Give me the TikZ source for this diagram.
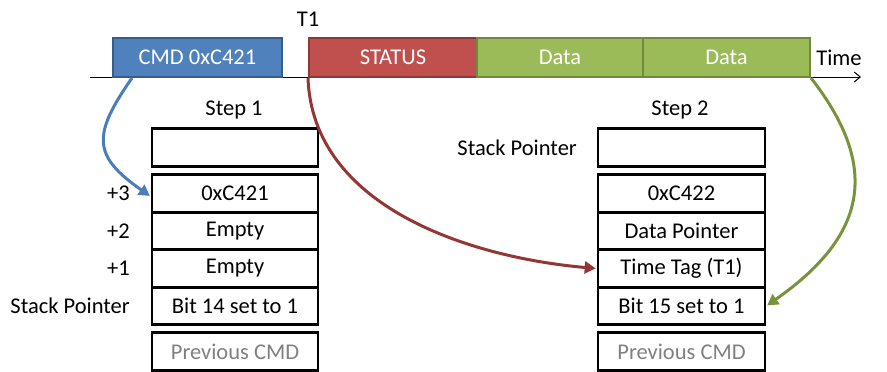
\documentclass[tikz,border=0pt]{standalone}
\usepackage{fontspec}
\setmainfont{Carlito}
\usetikzlibrary{arrows.meta}
\definecolor{cblue}{HTML}{4F81BD}
\definecolor{cblueD}{HTML}{385D8A}
\definecolor{cred}{HTML}{C0504D}
\definecolor{credD}{HTML}{8C3836}
\definecolor{cgreen}{HTML}{9BBB59}
\definecolor{cgreenD}{HTML}{71893F}
\definecolor{ablue}{HTML}{4A7EBB}
\definecolor{ared}{HTML}{943634}
\definecolor{agreen}{HTML}{77933C}
\tikzset{
  every node/.style={font=\fontsize{22.5}{26}\selectfont},
  bar/.style={draw, line width=2pt, minimum height=39pt, inner sep=0pt, text=white},
  cell/.style={draw=black, line width=2.6pt, minimum height=37.5pt, inner sep=0pt},
  lbl/.style={anchor=east, inner sep=0pt},
  conn/.style={line width=3pt, -{Triangle[length=11pt,width=12pt]}, shorten >=1pt}
}
\begin{document}
\begin{tikzpicture}[x=1pt,y=-1pt]
\useasboundingbox (0,0) rectangle (887,372);
% time axis
\coordinate (ax0) at (90,77);
\coordinate (ax1) at (861,77);
\draw[line width=1pt, -{Straight Barb[length=6pt,width=10pt]}] (ax0) -- (ax1);
\node (time) at (839,58) {Time};
\node (t1) at (308,19) {T1};
% message bar
\node[bar, fill=cblue, draw=cblueD, minimum width=169pt] (cmd) at (197.5,57.5) {CMD 0xC421};
\node[bar, fill=cred, draw=credD, minimum width=168pt] (status) at (393,57.5) {STATUS};
\node[bar, fill=cgreen, draw=cgreenD, minimum width=166pt] (d1) at (560,57.5) {Data};
\node[bar, fill=cgreen, draw=cgreenD, minimum width=167pt] (d2) at (726.5,57.5) {Data};
% step 1
\node (step1) at (234,110) {Step 1};
\node[cell, minimum width=166pt] (s1top) at (235,147.5) {};
\node[cell, minimum width=166pt] (s1r3) at (235,193.5) {0xC421};
\node[cell, minimum width=166pt] (s1r2) at (235,231) {Empty};
\node[cell, minimum width=166pt] (s1r1) at (235,268.5) {Empty};
\node[cell, minimum width=166pt] (s1r0) at (235,306) {Bit 14 set to 1};
\node[cell, minimum width=166pt, text=black!50] (s1p) at (235,351.5) {Previous CMD};
\node[lbl] (l3) at (130,193) {+3};
\node[lbl] (l2) at (130,231) {+2};
\node[lbl] (l1) at (130,268.5) {+1};
\node[lbl] (lsp1) at (130,306) {Stack Pointer};
% step 2
\node (step2) at (680,110) {Step 2};
\node[cell, minimum width=167pt] (s2top) at (681.5,147.5) {};
\node[cell, minimum width=167pt] (s2r3) at (681.5,193.5) {0xC422};
\node[cell, minimum width=167pt] (s2r2) at (681.5,231) {Data Pointer};
\node[cell, minimum width=167pt] (s2r1) at (681.5,268.5) {Time Tag (T1)};
\node[cell, minimum width=167pt] (s2r0) at (681.5,306) {Bit 15 set to 1};
\node[cell, minimum width=167pt, text=black!50] (s2p) at (681.5,351.5) {Previous CMD};
\node[lbl] (lsp2) at (577,148) {Stack Pointer};
% connectors
\draw[conn, ablue] ([xshift=20pt]cmd.south west) to[out=-125, in=145, looseness=1.5] ([yshift=-3pt]s1r3.west);
\draw[conn, ared] (status.south west) to[out=-88, in=175, looseness=0.95] (s2r1.west);
\draw[conn, agreen] (d2.south east) to[out=-52, in=35, looseness=1.3] (s2r0.east);
\end{tikzpicture}
\end{document}
